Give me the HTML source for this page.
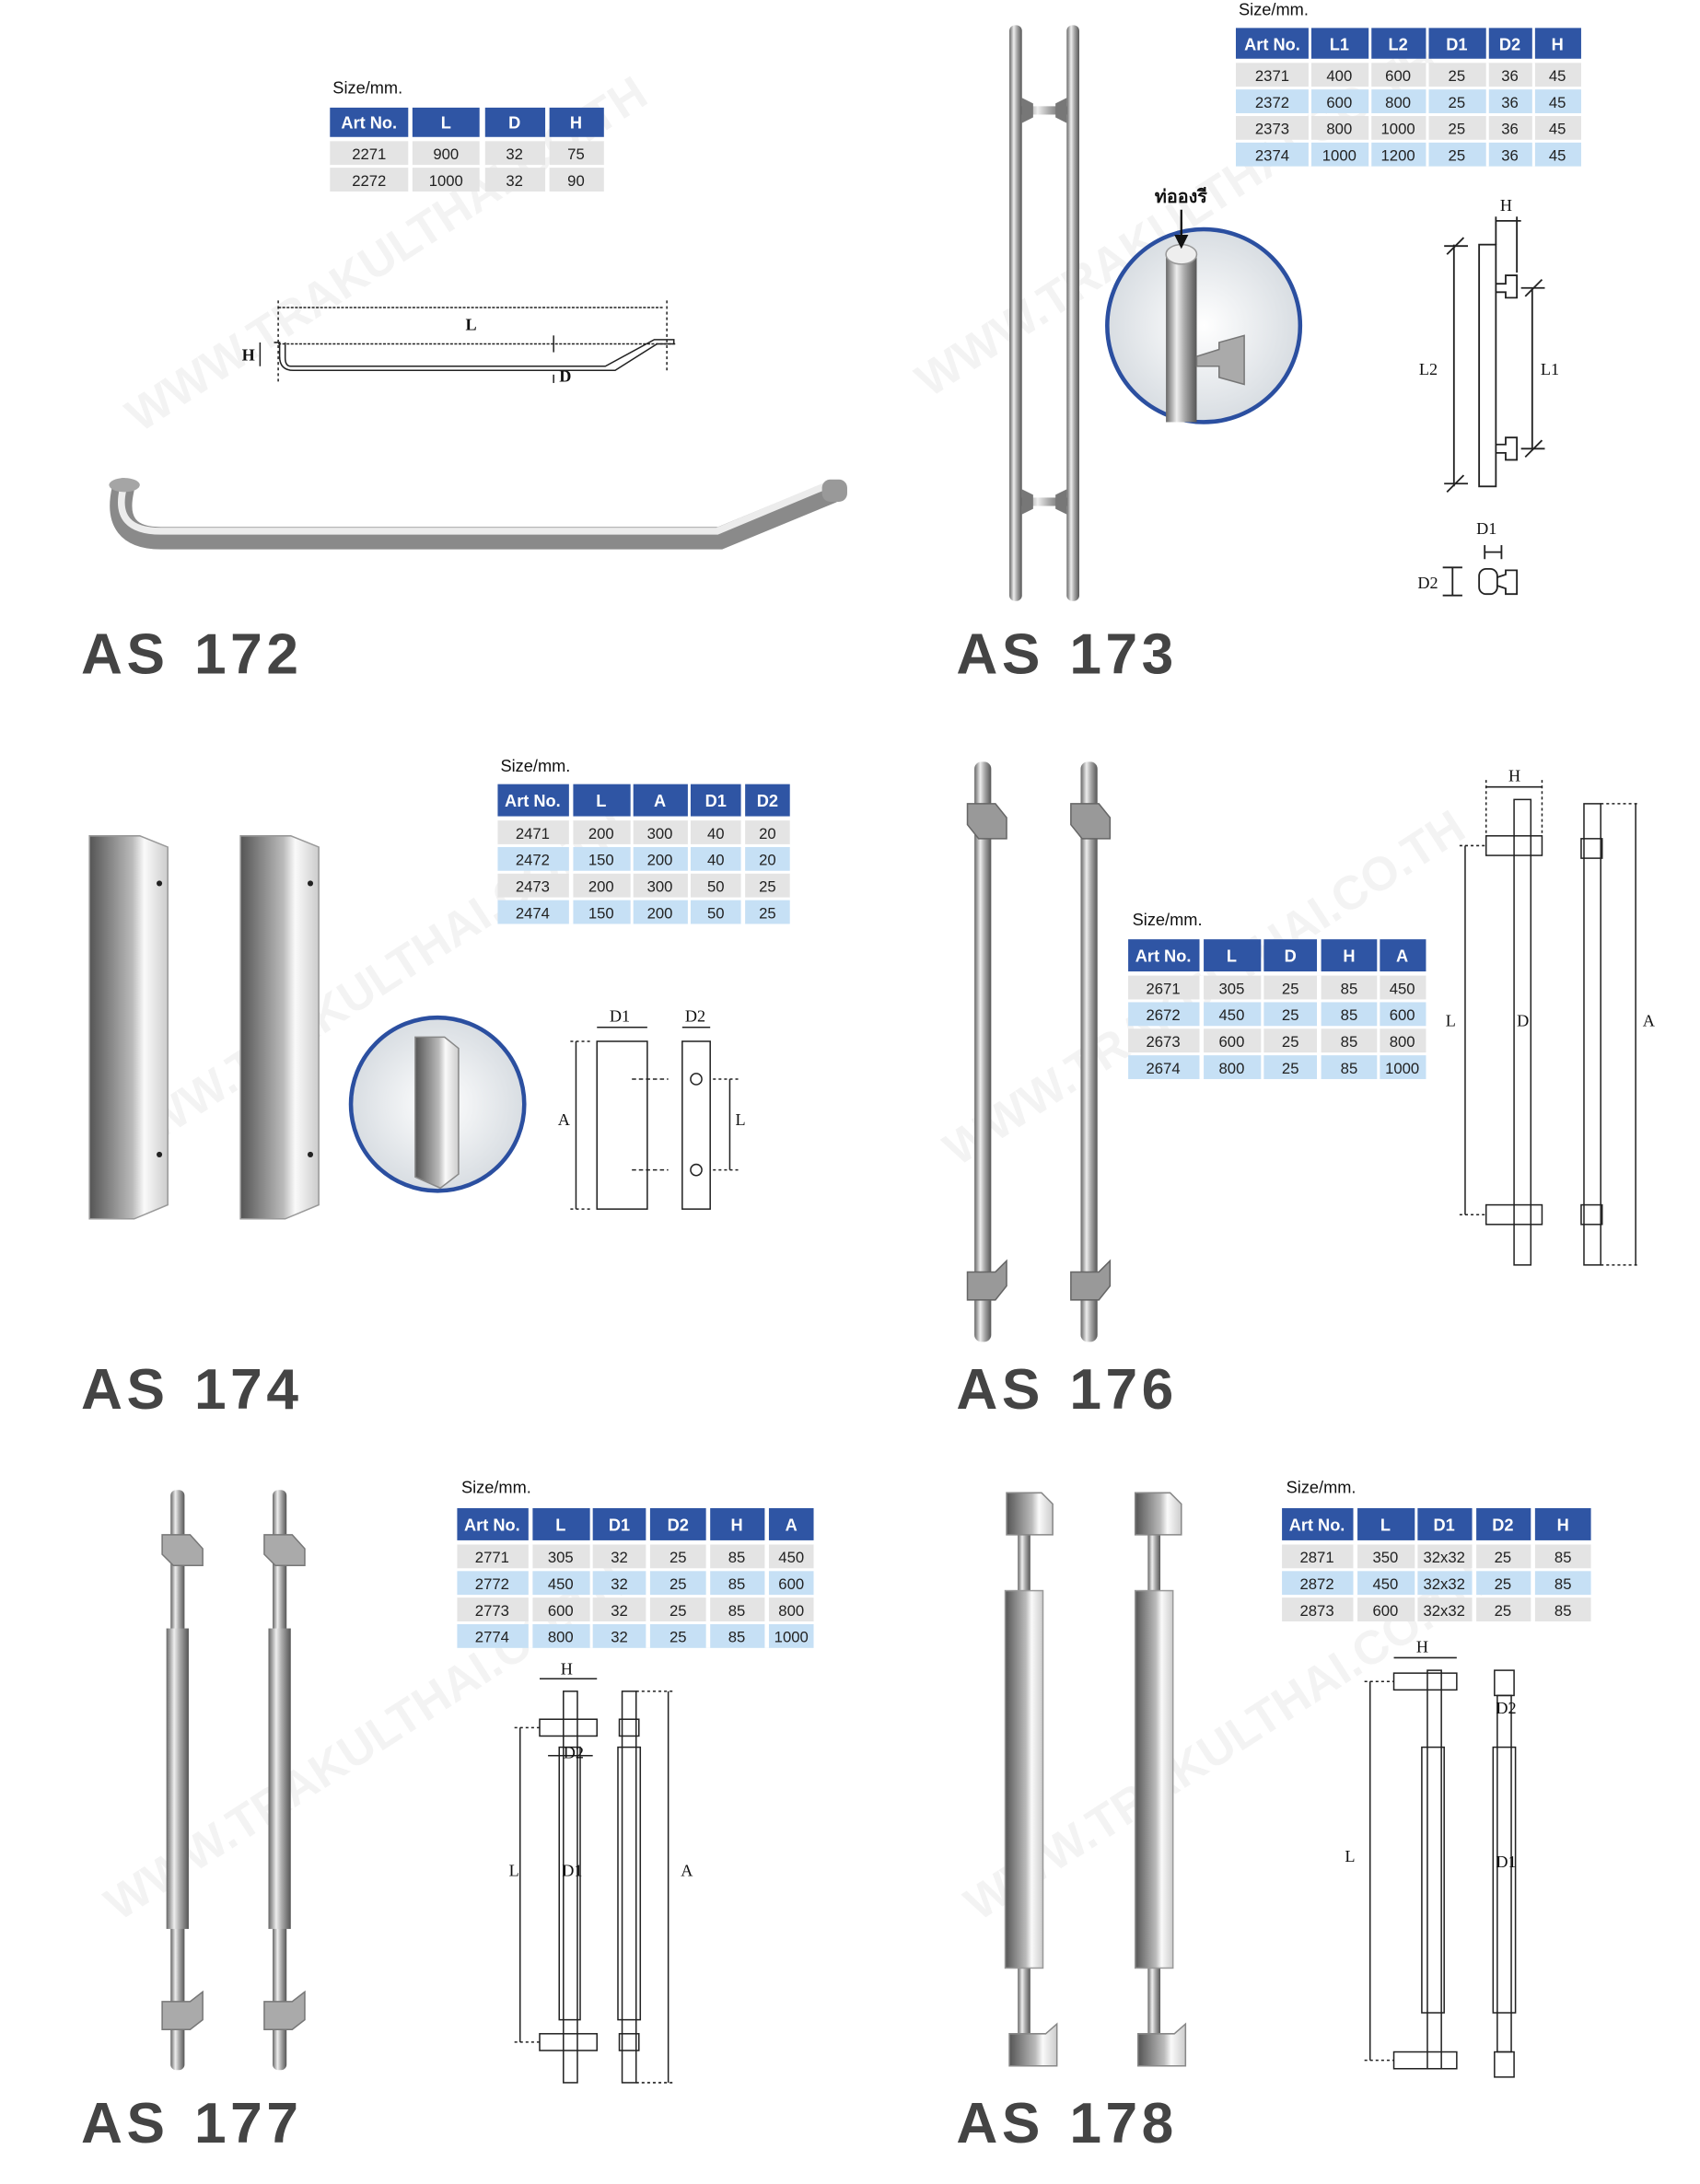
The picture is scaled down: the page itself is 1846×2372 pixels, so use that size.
<!DOCTYPE html>
<html><head><meta charset="utf-8"><style>
html,body{margin:0;padding:0;background:#fff;width:1846px;height:2372px;overflow:hidden}
svg{display:block}
.h{font-family:"Liberation Sans Narrow","Liberation Sans",sans-serif;font-weight:bold;font-size:12px;fill:#fff;text-anchor:middle}
.c{font-family:"Liberation Sans Narrow","Liberation Sans",sans-serif;font-size:11px;fill:#222;text-anchor:middle}
.s{font-family:"Liberation Sans",sans-serif;font-size:12px;fill:#111}
.t{font-family:"Liberation Sans","DejaVu Sans",sans-serif;font-weight:bold;font-size:41px;fill:#444;letter-spacing:3px}
.d{font-family:"Liberation Serif",serif;font-size:12px;fill:#111}
.w{font-family:"Liberation Sans",sans-serif;font-weight:bold;font-size:34px;fill:#000;opacity:.045}
</style></head><body>
<svg width="1846" height="2372" viewBox="0 0 1216 1562.5" xmlns="http://www.w3.org/2000/svg">
<defs>
<linearGradient id="mx" x1="0" x2="1" y1="0" y2="0"><stop offset="0" stop-color="#666"/><stop offset=".35" stop-color="#eee"/><stop offset=".6" stop-color="#aaa"/><stop offset="1" stop-color="#555"/></linearGradient>
<linearGradient id="sq" x1="0" x2="1" y1="0" y2="0"><stop offset="0" stop-color="#555"/><stop offset=".55" stop-color="#bbb"/><stop offset=".7" stop-color="#fafafa"/><stop offset="1" stop-color="#ccc"/></linearGradient>
<radialGradient id="cg"><stop offset="0" stop-color="#fff"/><stop offset="1" stop-color="#d8dde2"/></radialGradient>
</defs>

<!-- watermarks -->
<text class="w" transform="translate(100,310) rotate(-33)">WWW.TRAKULTHAI.CO.TH</text>
<text class="w" transform="translate(665,285) rotate(-33)">WWW.TRAKULTHAI.CO.TH</text>
<text class="w" transform="translate(85,835) rotate(-33)">WWW.TRAKULTHAI.CO.TH</text>
<text class="w" transform="translate(685,835) rotate(-33)">WWW.TRAKULTHAI.CO.TH</text>
<text class="w" transform="translate(85,1375) rotate(-33)">WWW.TRAKULTHAI.CO.TH</text>
<text class="w" transform="translate(700,1375) rotate(-33)">WWW.TRAKULTHAI.CO.TH</text>

<!-- titles -->
<text class="t" x="58" y="482">AS</text><text class="t" x="139" y="482">172</text>
<text class="t" x="684" y="482">AS</text><text class="t" x="765" y="482">173</text>
<text class="t" x="58" y="1008">AS</text><text class="t" x="139" y="1008">174</text>
<text class="t" x="684" y="1008">AS</text><text class="t" x="765" y="1008">176</text>
<text class="t" x="58" y="1533">AS</text><text class="t" x="139" y="1533">177</text>
<text class="t" x="684" y="1533">AS</text><text class="t" x="765" y="1533">178</text>

<!-- TABLE 1 -->
<text class="s" x="238" y="67">Size/mm.</text>
<g fill="#2f55a4"><rect x="236" y="77" width="56" height="21"/><rect x="295" y="77" width="48" height="21"/><rect x="347" y="77" width="43" height="21"/><rect x="393" y="77" width="39" height="21"/></g>
<text class="h" x="264" y="92">Art No.</text><text class="h" x="319" y="92">L</text><text class="h" x="368" y="92">D</text><text class="h" x="412" y="92">H</text>
<g fill="#e4e4e4"><rect x="236" y="101" width="56" height="17"/><rect x="295" y="101" width="48" height="17"/><rect x="347" y="101" width="43" height="17"/><rect x="393" y="101" width="39" height="17"/>
<rect x="236" y="120" width="56" height="17"/><rect x="295" y="120" width="48" height="17"/><rect x="347" y="120" width="43" height="17"/><rect x="393" y="120" width="39" height="17"/></g>
<text class="c" x="264" y="114">2271</text><text class="c" x="319" y="114">900</text><text class="c" x="368" y="114">32</text><text class="c" x="412" y="114">75</text>
<text class="c" x="264" y="133">2272</text><text class="c" x="319" y="133">1000</text><text class="c" x="368" y="133">32</text><text class="c" x="412" y="133">90</text>

<!-- AS172 diagram -->
<g stroke="#222" fill="none" stroke-width="1">
<line x1="199" y1="220" x2="475" y2="220" stroke-dasharray="2,1"/>
<line x1="199" y1="215" x2="199" y2="275" stroke-dasharray="2,2"/><line x1="477" y1="215" x2="477" y2="265" stroke-dasharray="2,2"/>
<line x1="199" y1="246" x2="483" y2="246" stroke-dasharray="2,1"/>
<path d="M196,245 L200,245 L200,255 Q200,265 210,265 L440,265 L470,246 L482,246 L482,243 L468,243 L433,262 L208,262 Q204,262 204,256 L204,245"/>
<line x1="186" y1="245" x2="186" y2="262"/>
<line x1="396" y1="240" x2="396" y2="252"/><line x1="396" y1="268" x2="396" y2="274"/>
</g>
<text class="d" x="333" y="236" font-weight="bold">L</text><text class="d" x="173" y="258" font-weight="bold">H</text><text class="d" x="400" y="273" font-weight="bold">D</text>
<!-- AS172 photo -->
<path d="M88,350 Q80,385 115,385 L515,385 L595,352" fill="none" stroke="#8a8a8a" stroke-width="16" stroke-linecap="round"/>
<path d="M88,350 Q81,380 115,380 L513,380 L592,347" fill="none" stroke="#ececec" stroke-width="5" stroke-linecap="round"/>
<ellipse cx="89" cy="347" rx="11" ry="5" fill="#a5a5a5"/>
<rect x="588" y="343" width="18" height="16" rx="6" fill="#999"/>

<!-- TABLE 2 -->
<text class="s" x="886" y="11">Size/mm.</text>
<g fill="#2f55a4"><rect x="884" y="20" width="52" height="22"/><rect x="938" y="20" width="41" height="22"/><rect x="981" y="20" width="39" height="22"/><rect x="1022" y="20" width="41" height="22"/><rect x="1065" y="20" width="31" height="22"/><rect x="1098" y="20" width="33" height="22"/></g>
<text class="h" x="910" y="36">Art No.</text><text class="h" x="958" y="36">L1</text><text class="h" x="1000" y="36">L2</text><text class="h" x="1042" y="36">D1</text><text class="h" x="1080" y="36">D2</text><text class="h" x="1114" y="36">H</text>
<g fill="#e4e4e4"><rect x="884" y="45" width="247" height="17"/><rect x="884" y="83" width="247" height="17"/></g>
<g fill="#c6e0f5"><rect x="884" y="64" width="247" height="17"/><rect x="884" y="102" width="247" height="17"/></g>
<g fill="#fff"><rect x="936" y="45" width="2" height="74"/><rect x="979" y="45" width="2" height="74"/><rect x="1020" y="45" width="2" height="74"/><rect x="1063" y="45" width="2" height="74"/><rect x="1096" y="45" width="2" height="74"/></g>
<text class="c" x="910" y="58">2371</text><text class="c" x="958" y="58">400</text><text class="c" x="1000" y="58">600</text><text class="c" x="1042" y="58">25</text><text class="c" x="1080" y="58">36</text><text class="c" x="1114" y="58">45</text>
<text class="c" x="910" y="77">2372</text><text class="c" x="958" y="77">600</text><text class="c" x="1000" y="77">800</text><text class="c" x="1042" y="77">25</text><text class="c" x="1080" y="77">36</text><text class="c" x="1114" y="77">45</text>
<text class="c" x="910" y="96">2373</text><text class="c" x="958" y="96">800</text><text class="c" x="1000" y="96">1000</text><text class="c" x="1042" y="96">25</text><text class="c" x="1080" y="96">36</text><text class="c" x="1114" y="96">45</text>
<text class="c" x="910" y="115">2374</text><text class="c" x="958" y="115">1000</text><text class="c" x="1000" y="115">1200</text><text class="c" x="1042" y="115">25</text><text class="c" x="1080" y="115">36</text><text class="c" x="1114" y="115">45</text>

<!-- AS173 photo -->
<rect x="722" y="18" width="9" height="412" rx="4" fill="url(#mx)"/>
<rect x="763" y="18" width="9" height="412" rx="4" fill="url(#mx)"/>
<g fill="url(#mx)"><rect x="731" y="76" width="32" height="6"/><rect x="731" y="356" width="32" height="6"/></g>
<g fill="#777"><path d="M731,70 l8,4 v10 l-8,4z"/><path d="M763,70 l-8,4 v10 l8,4z"/><path d="M731,350 l8,4 v10 l-8,4z"/><path d="M763,350 l-8,4 v10 l8,4z"/></g>
<circle cx="861" cy="233" r="69" fill="url(#cg)" stroke="#2b4fa0" stroke-width="3"/>
<rect x="834" y="180" width="22" height="122" fill="url(#mx)"/>
<ellipse cx="845" cy="182" rx="11" ry="7" fill="#eee" stroke="#999"/>
<path d="M856,255 L872,250 L872,245 L890,240 L890,275 L872,270 L872,262 L856,262Z" fill="#aaa" stroke="#777"/>
<text x="826" y="145" font-family="Liberation Sans,'Noto Sans CJK SC',sans-serif" font-size="13" font-weight="bold" fill="#111">ท่อองรี</text>
<line x1="845" y1="150" x2="845" y2="172" stroke="#111" stroke-width="1.5"/><path d="M840,168 L845,178 L850,168Z" fill="#111"/>
<!-- AS173 diagram -->
<g stroke="#222" fill="none" stroke-width="1.2">
<rect x="1058" y="175" width="12" height="173" fill="#fff"/>
<path d="M1070,203 L1077,203 L1077,197 L1085,197 L1085,213 L1077,213 L1077,209 L1070,209"/>
<path d="M1070,318 L1077,318 L1077,313 L1085,313 L1085,329 L1077,329 L1077,324 L1070,324"/>
<line x1="1040" y1="175" x2="1040" y2="348"/><line x1="1035" y1="182" x2="1047" y2="170"/><line x1="1035" y1="352" x2="1047" y2="340"/><line x1="1033" y1="176" x2="1050" y2="176"/><line x1="1033" y1="346" x2="1050" y2="346"/>
<line x1="1096" y1="206" x2="1096" y2="321"/><line x1="1091" y1="212" x2="1103" y2="200"/><line x1="1091" y1="327" x2="1103" y2="315"/><line x1="1088" y1="206" x2="1105" y2="206"/><line x1="1088" y1="321" x2="1105" y2="321"/>
<line x1="1070" y1="158" x2="1088" y2="158"/><line x1="1070" y1="155" x2="1070" y2="175"/><line x1="1085" y1="155" x2="1085" y2="195"/>
<line x1="1062" y1="395" x2="1074" y2="395"/><line x1="1062" y1="390" x2="1062" y2="400"/><line x1="1074" y1="390" x2="1074" y2="400"/>
<rect x="1058" y="407" width="13" height="18" rx="5"/><path d="M1071,413 L1077,411 L1077,408 L1085,408 L1085,425 L1077,425 L1077,421 L1071,419"/>
<line x1="1032" y1="406" x2="1046" y2="406"/><line x1="1032" y1="426" x2="1046" y2="426"/><line x1="1039" y1="406" x2="1039" y2="426"/>
</g>
<text class="d" x="1073" y="151" font-size="13">H</text><text class="d" x="1015" y="268" font-size="13">L2</text><text class="d" x="1102" y="268" font-size="13">L1</text>
<text class="d" x="1056" y="382" font-size="13">D1</text><text class="d" x="1014" y="421" font-size="13">D2</text>

<!-- TABLE 3 -->
<text class="s" x="358" y="552">Size/mm.</text>
<g fill="#2f55a4"><rect x="356" y="561" width="51" height="23"/><rect x="410" y="561" width="41" height="23"/><rect x="453" y="561" width="39" height="23"/><rect x="494" y="561" width="36" height="23"/><rect x="533" y="561" width="32" height="23"/></g>
<text class="h" x="381" y="577">Art No.</text><text class="h" x="430" y="577">L</text><text class="h" x="472" y="577">A</text><text class="h" x="512" y="577">D1</text><text class="h" x="549" y="577">D2</text>
<g fill="#e4e4e4"><rect x="356" y="587" width="209" height="17"/><rect x="356" y="625" width="209" height="17"/></g>
<g fill="#c6e0f5"><rect x="356" y="606" width="209" height="17"/><rect x="356" y="644" width="209" height="17"/></g>
<g fill="#fff"><rect x="407" y="587" width="3" height="74"/><rect x="451" y="587" width="2" height="74"/><rect x="492" y="587" width="2" height="74"/><rect x="530" y="587" width="3" height="74"/></g>
<text class="c" x="381" y="600">2471</text><text class="c" x="430" y="600">200</text><text class="c" x="472" y="600">300</text><text class="c" x="512" y="600">40</text><text class="c" x="549" y="600">20</text>
<text class="c" x="381" y="619">2472</text><text class="c" x="430" y="619">150</text><text class="c" x="472" y="619">200</text><text class="c" x="512" y="619">40</text><text class="c" x="549" y="619">20</text>
<text class="c" x="381" y="638">2473</text><text class="c" x="430" y="638">200</text><text class="c" x="472" y="638">300</text><text class="c" x="512" y="638">50</text><text class="c" x="549" y="638">25</text>
<text class="c" x="381" y="657">2474</text><text class="c" x="430" y="657">150</text><text class="c" x="472" y="657">200</text><text class="c" x="512" y="657">50</text><text class="c" x="549" y="657">25</text>

<!-- AS174 photo -->
<path d="M64,598 L100,598 L120,606 L120,862 L96,872 L64,872Z" fill="url(#sq)" stroke="#999"/>
<path d="M172,598 L208,598 L228,606 L228,862 L204,872 L172,872Z" fill="url(#sq)" stroke="#999"/>
<g fill="#222"><circle cx="114" cy="632" r="2"/><circle cx="114" cy="826" r="2"/><circle cx="222" cy="632" r="2"/><circle cx="222" cy="826" r="2"/></g>
<circle cx="313" cy="790" r="62" fill="url(#cg)" stroke="#2b4fa0" stroke-width="3"/>
<path d="M297,742 L318,742 L328,750 L328,840 L315,850 L297,842Z" fill="url(#sq)" stroke="#888"/>
<!-- AS174 diagram -->
<g stroke="#222" fill="none" stroke-width="1">
<rect x="427" y="745" width="36" height="120"/><rect x="488" y="745" width="20" height="120"/>
<circle cx="498" cy="772" r="4"/><circle cx="498" cy="837" r="4"/>
<line x1="412" y1="745" x2="412" y2="865"/><line x1="408" y1="745" x2="424" y2="745" stroke-dasharray="2,2"/><line x1="408" y1="865" x2="424" y2="865" stroke-dasharray="2,2"/>
<line x1="427" y1="735" x2="463" y2="735"/><line x1="488" y1="735" x2="508" y2="735"/>
<line x1="522" y1="772" x2="522" y2="837"/><line x1="510" y1="772" x2="528" y2="772" stroke-dasharray="2,2"/><line x1="510" y1="837" x2="528" y2="837" stroke-dasharray="2,2"/>
<line x1="452" y1="772" x2="478" y2="772" stroke-dasharray="3,2"/><line x1="452" y1="837" x2="478" y2="837" stroke-dasharray="3,2"/>
</g>
<text class="d" x="436" y="731">D1</text><text class="d" x="490" y="731">D2</text><text class="d" x="399" y="805">A</text><text class="d" x="526" y="805">L</text>

<!-- TABLE 4 -->
<text class="s" x="810" y="662">Size/mm.</text>
<g fill="#2f55a4"><rect x="807" y="672" width="51" height="23"/><rect x="861" y="672" width="41" height="23"/><rect x="904" y="672" width="38" height="23"/><rect x="945" y="672" width="40" height="23"/><rect x="987" y="672" width="33" height="23"/></g>
<text class="h" x="832" y="688">Art No.</text><text class="h" x="881" y="688">L</text><text class="h" x="923" y="688">D</text><text class="h" x="965" y="688">H</text><text class="h" x="1003" y="688">A</text>
<g fill="#e4e4e4"><rect x="807" y="698" width="213" height="17"/><rect x="807" y="736" width="213" height="17"/></g>
<g fill="#c6e0f5"><rect x="807" y="717" width="213" height="17"/><rect x="807" y="755" width="213" height="17"/></g>
<g fill="#fff"><rect x="858" y="698" width="3" height="74"/><rect x="902" y="698" width="2" height="74"/><rect x="942" y="698" width="3" height="74"/><rect x="985" y="698" width="2" height="74"/></g>
<text class="c" x="832" y="711">2671</text><text class="c" x="881" y="711">305</text><text class="c" x="923" y="711">25</text><text class="c" x="965" y="711">85</text><text class="c" x="1003" y="711">450</text>
<text class="c" x="832" y="730">2672</text><text class="c" x="881" y="730">450</text><text class="c" x="923" y="730">25</text><text class="c" x="965" y="730">85</text><text class="c" x="1003" y="730">600</text>
<text class="c" x="832" y="749">2673</text><text class="c" x="881" y="749">600</text><text class="c" x="923" y="749">25</text><text class="c" x="965" y="749">85</text><text class="c" x="1003" y="749">800</text>
<text class="c" x="832" y="768">2674</text><text class="c" x="881" y="768">800</text><text class="c" x="923" y="768">25</text><text class="c" x="965" y="768">85</text><text class="c" x="1003" y="768">1000</text>

<!-- AS176 photo -->
<rect x="697" y="545" width="12" height="415" rx="5" fill="url(#mx)"/>
<rect x="773" y="545" width="12" height="415" rx="5" fill="url(#mx)"/>
<g fill="#999" stroke="#666"><path d="M692,575 L712,575 L720,585 L720,600 L700,600 L692,590Z"/><path d="M766,575 L786,575 L794,585 L794,600 L774,600 L766,590Z"/>
<path d="M692,910 L712,910 L720,902 L720,920 L712,930 L692,930Z"/><path d="M766,910 L786,910 L794,902 L794,920 L786,930 L766,930Z"/></g>
<!-- AS176 diagram -->
<g stroke="#222" fill="none" stroke-width="1">
<rect x="1083" y="572" width="12" height="333"/><rect x="1063" y="598" width="40" height="14"/><rect x="1063" y="862" width="40" height="14"/>
<rect x="1133" y="575" width="12" height="330"/><rect x="1131" y="600" width="15" height="14"/><rect x="1131" y="862" width="15" height="14"/>
<line x1="1063" y1="563" x2="1103" y2="563"/><line x1="1063" y1="558" x2="1063" y2="598" stroke-dasharray="2,2"/><line x1="1103" y1="558" x2="1103" y2="598" stroke-dasharray="2,2"/>
<line x1="1048" y1="605" x2="1048" y2="869"/><line x1="1044" y1="605" x2="1063" y2="605" stroke-dasharray="2,2"/><line x1="1044" y1="869" x2="1063" y2="869" stroke-dasharray="2,2"/>
<line x1="1170" y1="575" x2="1170" y2="905"/><line x1="1145" y1="575" x2="1172" y2="575" stroke-dasharray="2,2"/><line x1="1145" y1="905" x2="1172" y2="905" stroke-dasharray="2,2"/>
</g>
<text class="d" font-size="10" x="1079" y="559">H</text><text class="d" font-size="10" x="1034" y="734">L</text><text class="d" font-size="10" x="1085" y="734">D</text><text class="d" font-size="10" x="1175" y="734">A</text>

<!-- TABLE 5 -->
<text class="s" x="330" y="1068">Size/mm.</text>
<g fill="#2f55a4"><rect x="327" y="1079" width="51" height="23"/><rect x="381" y="1079" width="41" height="23"/><rect x="424" y="1079" width="38" height="23"/><rect x="465" y="1079" width="40" height="23"/><rect x="508" y="1079" width="39" height="23"/><rect x="550" y="1079" width="32" height="23"/></g>
<text class="h" x="352" y="1095">Art No.</text><text class="h" x="401" y="1095">L</text><text class="h" x="443" y="1095">D1</text><text class="h" x="485" y="1095">D2</text><text class="h" x="527" y="1095">H</text><text class="h" x="566" y="1095">A</text>
<g fill="#e4e4e4"><rect x="327" y="1105" width="255" height="17"/><rect x="327" y="1143" width="255" height="17"/></g>
<g fill="#c6e0f5"><rect x="327" y="1124" width="255" height="17"/><rect x="327" y="1162" width="255" height="17"/></g>
<g fill="#fff"><rect x="378" y="1105" width="3" height="74"/><rect x="422" y="1105" width="2" height="74"/><rect x="462" y="1105" width="3" height="74"/><rect x="505" y="1105" width="3" height="74"/><rect x="547" y="1105" width="3" height="74"/></g>
<text class="c" x="352" y="1118">2771</text><text class="c" x="401" y="1118">305</text><text class="c" x="443" y="1118">32</text><text class="c" x="485" y="1118">25</text><text class="c" x="527" y="1118">85</text><text class="c" x="566" y="1118">450</text>
<text class="c" x="352" y="1137">2772</text><text class="c" x="401" y="1137">450</text><text class="c" x="443" y="1137">32</text><text class="c" x="485" y="1137">25</text><text class="c" x="527" y="1137">85</text><text class="c" x="566" y="1137">600</text>
<text class="c" x="352" y="1156">2773</text><text class="c" x="401" y="1156">600</text><text class="c" x="443" y="1156">32</text><text class="c" x="485" y="1156">25</text><text class="c" x="527" y="1156">85</text><text class="c" x="566" y="1156">800</text>
<text class="c" x="352" y="1175">2774</text><text class="c" x="401" y="1175">800</text><text class="c" x="443" y="1175">32</text><text class="c" x="485" y="1175">25</text><text class="c" x="527" y="1175">85</text><text class="c" x="566" y="1175">1000</text>

<!-- AS177 photo -->
<rect x="122" y="1066" width="10" height="415" rx="4" fill="url(#mx)"/>
<rect x="195" y="1066" width="10" height="415" rx="4" fill="url(#mx)"/>
<rect x="119" y="1165" width="16" height="215" fill="url(#mx)"/><rect x="192" y="1165" width="16" height="215" fill="url(#mx)"/>
<g fill="#aaa" stroke="#777"><path d="M116,1098 L136,1098 L145,1108 L145,1120 L124,1120 L116,1112Z"/><path d="M189,1098 L209,1098 L218,1108 L218,1120 L197,1120 L189,1112Z"/>
<path d="M116,1432 L136,1432 L145,1425 L145,1445 L136,1452 L116,1452Z"/><path d="M189,1432 L209,1432 L218,1425 L218,1445 L209,1452 L189,1452Z"/></g>
<!-- AS177 diagram -->
<g stroke="#222" fill="none" stroke-width="1">
<rect x="403" y="1210" width="10" height="280"/><rect x="386" y="1230" width="41" height="12"/><rect x="386" y="1455" width="41" height="12"/>
<rect x="400" y="1250" width="15" height="195"/>
<rect x="445" y="1210" width="10" height="280"/><rect x="443" y="1230" width="14" height="12"/><rect x="443" y="1455" width="14" height="12"/><rect x="442" y="1250" width="16" height="195"/>
<line x1="386" y1="1201" x2="427" y2="1201"/>
<line x1="372" y1="1236" x2="372" y2="1461"/><line x1="368" y1="1236" x2="386" y2="1236" stroke-dasharray="2,2"/><line x1="368" y1="1461" x2="386" y2="1461" stroke-dasharray="2,2"/>
<line x1="478" y1="1210" x2="478" y2="1490"/><line x1="455" y1="1210" x2="482" y2="1210" stroke-dasharray="2,2"/><line x1="455" y1="1490" x2="482" y2="1490" stroke-dasharray="2,2"/>
<line x1="392" y1="1256" x2="424" y2="1256"/>
</g>
<text class="d" font-size="9" x="401" y="1198">H</text><text class="d" font-size="9" x="364" y="1342">L</text><text class="d" font-size="9" x="402" y="1342">D1</text><text class="d" font-size="9" x="403" y="1258">D2</text><text class="d" font-size="9" x="487" y="1342">A</text>

<!-- TABLE 6 -->
<text class="s" x="920" y="1068">Size/mm.</text>
<g fill="#2f55a4"><rect x="917" y="1079" width="51" height="23"/><rect x="971" y="1079" width="41" height="23"/><rect x="1014" y="1079" width="39" height="23"/><rect x="1056" y="1079" width="39" height="23"/><rect x="1098" y="1079" width="40" height="23"/></g>
<text class="h" x="942" y="1095">Art No.</text><text class="h" x="991" y="1095">L</text><text class="h" x="1033" y="1095">D1</text><text class="h" x="1075" y="1095">D2</text><text class="h" x="1118" y="1095">H</text>
<g fill="#e4e4e4"><rect x="917" y="1105" width="221" height="17"/><rect x="917" y="1143" width="221" height="17"/></g>
<g fill="#c6e0f5"><rect x="917" y="1124" width="221" height="17"/></g>
<g fill="#fff"><rect x="968" y="1105" width="3" height="55"/><rect x="1012" y="1105" width="2" height="55"/><rect x="1053" y="1105" width="3" height="55"/><rect x="1095" y="1105" width="3" height="55"/></g>
<text class="c" x="942" y="1118">2871</text><text class="c" x="991" y="1118">350</text><text class="c" x="1033" y="1118">32x32</text><text class="c" x="1075" y="1118">25</text><text class="c" x="1118" y="1118">85</text>
<text class="c" x="942" y="1137">2872</text><text class="c" x="991" y="1137">450</text><text class="c" x="1033" y="1137">32x32</text><text class="c" x="1075" y="1137">25</text><text class="c" x="1118" y="1137">85</text>
<text class="c" x="942" y="1156">2873</text><text class="c" x="991" y="1156">600</text><text class="c" x="1033" y="1156">32x32</text><text class="c" x="1075" y="1156">25</text><text class="c" x="1118" y="1156">85</text>

<!-- AS178 photo -->
<rect x="728" y="1085" width="9" height="380" fill="url(#mx)"/><rect x="821" y="1085" width="9" height="380" fill="url(#mx)"/>
<rect x="719" y="1138" width="27" height="270" fill="url(#sq)" stroke="#999"/><rect x="812" y="1138" width="27" height="270" fill="url(#sq)" stroke="#999"/>
<g fill="url(#sq)" stroke="#888"><path d="M720,1068 L745,1068 L753,1076 L753,1098 L720,1098Z"/><path d="M812,1068 L837,1068 L845,1076 L845,1098 L812,1098Z"/>
<path d="M722,1455 L748,1455 L756,1448 L756,1478 L722,1478Z"/><path d="M814,1455 L840,1455 L848,1448 L848,1478 L814,1478Z"/></g>
<!-- AS178 diagram -->
<g stroke="#222" fill="none" stroke-width="1">
<rect x="1021" y="1195" width="10" height="285"/><rect x="997" y="1197" width="45" height="12"/><rect x="997" y="1468" width="45" height="12"/><rect x="1017" y="1250" width="16" height="190"/>
<rect x="1069" y="1195" width="14" height="18"/><rect x="1069" y="1468" width="14" height="18"/><rect x="1071" y="1213" width="10" height="255"/><rect x="1068" y="1250" width="16" height="190"/>
<line x1="997" y1="1186" x2="1042" y2="1186"/>
<line x1="980" y1="1203" x2="980" y2="1474"/><line x1="976" y1="1203" x2="997" y2="1203" stroke-dasharray="2,2"/><line x1="976" y1="1474" x2="997" y2="1474" stroke-dasharray="2,2"/>
</g>
<text class="d" font-size="10" x="1013" y="1182">H</text><text class="d" font-size="10" x="962" y="1332">L</text><text class="d" font-size="9" x="1070" y="1226">D2</text><text class="d" font-size="9" x="1070" y="1336">D1</text>
</svg>
</body></html>
